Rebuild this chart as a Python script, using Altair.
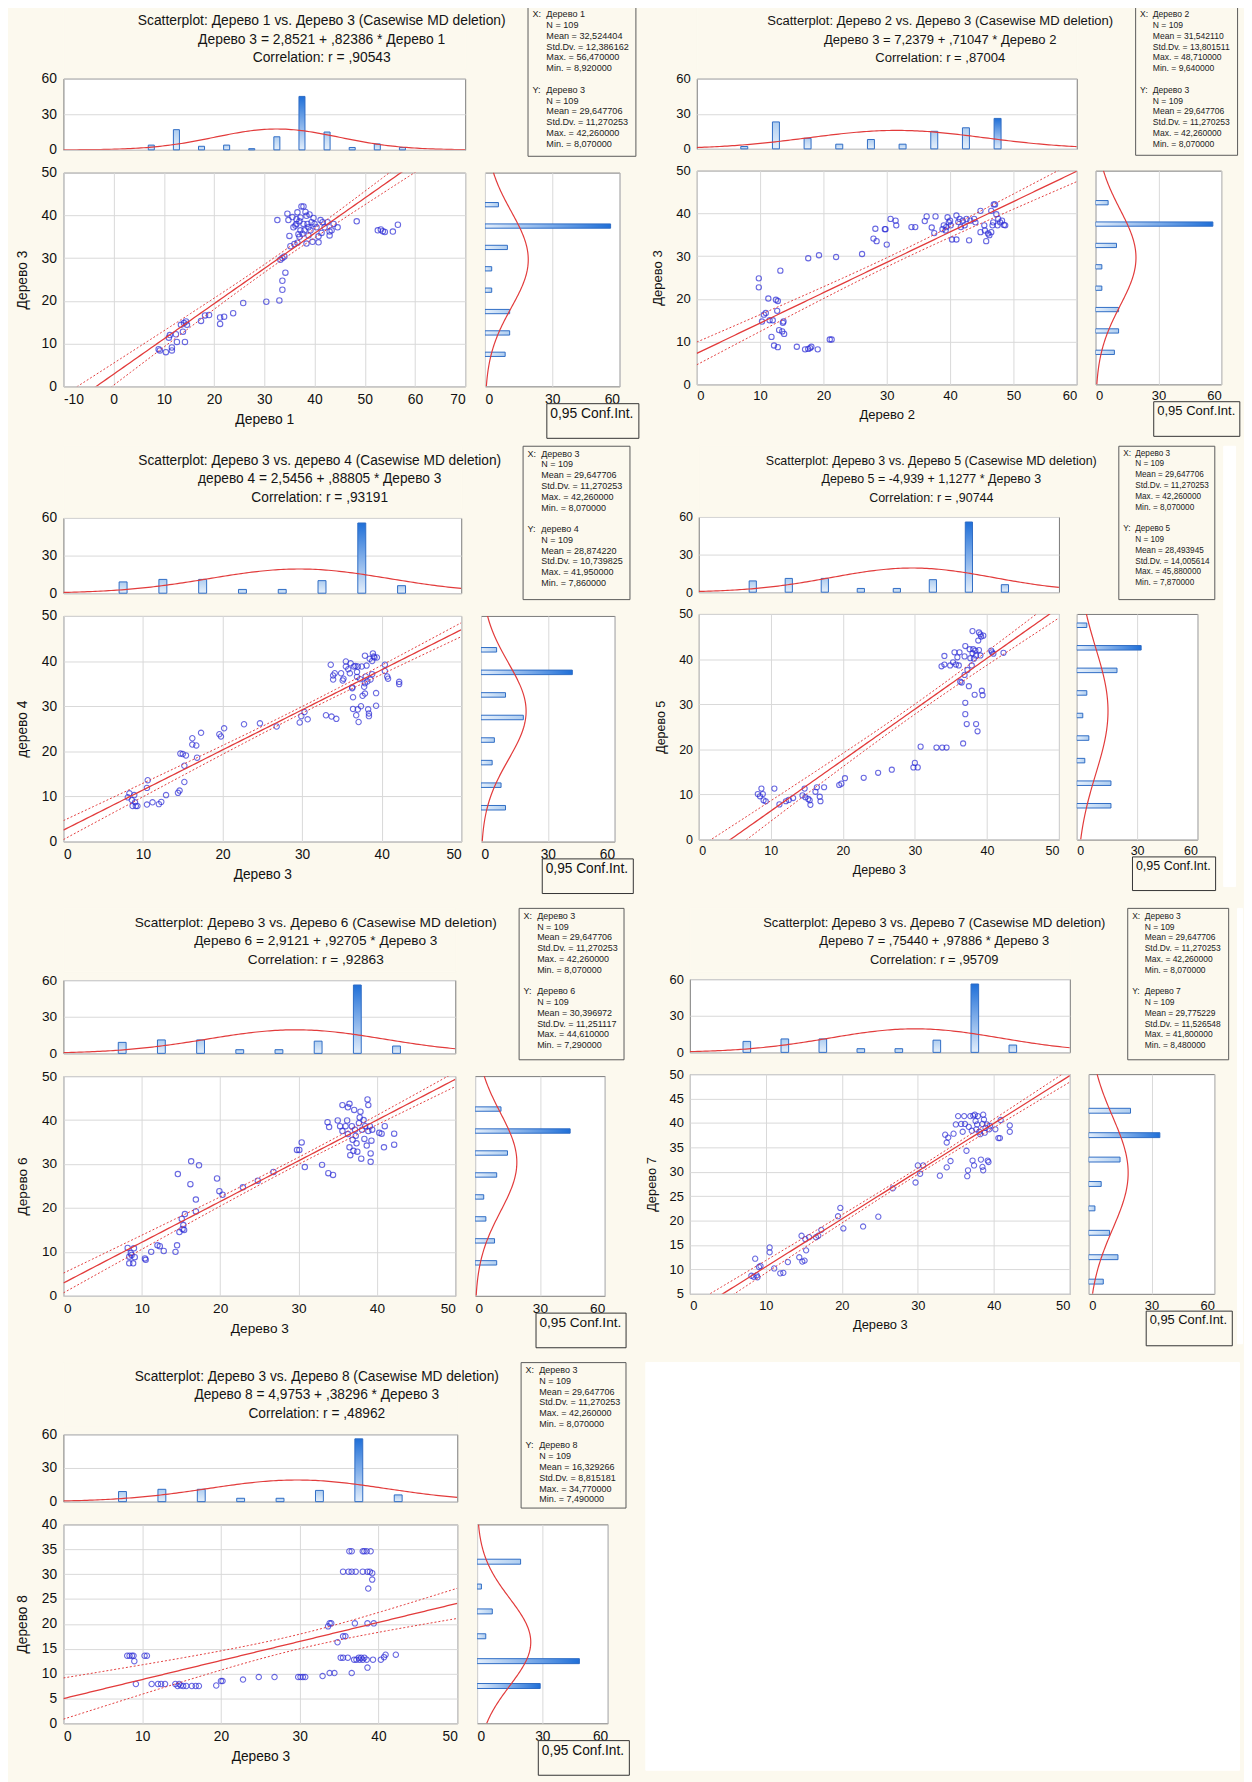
import altair as alt
import pandas as pd
import math

# ------------------------------------------------------------------ data
N_CASES = 109
BIN_WIDTH = 5

VAR_NAMES = ["Дерево 1", "Дерево 2", "Дерево 3", "дерево 4", "Дерево 5", "Дерево 6", "Дерево 7", "Дерево 8"]
VAR_MEAN = [32.524404, 31.542110, 29.647706, 28.874220, 28.493945, 30.396972, 29.775229, 16.329266]
VAR_SD = [12.386162, 13.801511, 11.270253, 10.739825, 14.005614, 11.251117, 11.526548, 8.815181]
VAR_MAX = [56.47, 48.71, 42.26, 41.95, 45.88, 44.61, 41.80, 34.77]
VAR_MIN = [8.92, 9.64, 8.07, 7.86, 7.87, 7.29, 8.48, 7.49]

HIST_MIDS = [
    [7.5, 12.5, 17.5, 22.5, 27.5, 32.5, 37.5, 42.5, 47.5, 52.5, 57.5],
    [7.5, 12.5, 17.5, 22.5, 27.5, 32.5, 37.5, 42.5, 47.5],
    [7.5, 12.5, 17.5, 22.5, 27.5, 32.5, 37.5, 42.5],
    [7.5, 12.5, 17.5, 22.5, 27.5, 32.5, 37.5, 42.5],
    [7.5, 12.5, 17.5, 22.5, 27.5, 32.5, 37.5, 42.5, 47.5],
    [7.5, 12.5, 17.5, 22.5, 27.5, 32.5, 37.5, 42.5],
    [7.5, 12.5, 17.5, 22.5, 27.5, 32.5, 37.5, 42.5],
    [7.5, 12.5, 17.5, 22.5, 27.5, 32.5],
]
HIST_COUNTS = [
    [4, 17, 3, 4, 1, 11, 45, 15, 2, 5, 2],
    [2, 23, 9, 4, 8, 4, 15, 18, 26],
    [9, 11, 11, 3, 3, 10, 56, 6],
    [11, 9, 5, 6, 19, 11, 41, 7],
    [17, 17, 4, 6, 3, 5, 20, 32, 5],
    [10, 9, 5, 4, 10, 15, 44, 12],
    [7, 14, 10, 3, 6, 15, 34, 20],
    [29, 47, 4, 7, 2, 20],
]

PAIRS = [(0, 2), (1, 2), (2, 3), (2, 4), (2, 5), (2, 6), (2, 7)]
INTERCEPT = [2.8521, 7.2379, 2.5456, -4.939, 2.9121, 0.75440, 4.9753]
SLOPE = [0.82386, 0.71047, 0.88805, 1.1277, 0.92705, 0.97886, 0.38296]
CORR = [0.90543, 0.87004, 0.93191, 0.90744, 0.92863, 0.95709, 0.48962]
EQ_TEXT = [
    "Дерево 3 = 2,8521 + ,82386 * Дерево 1",
    "Дерево 3 = 7,2379 + ,71047 * Дерево 2",
    "дерево 4 = 2,5456 + ,88805 * Дерево 3",
    "Дерево 5 = -4,939 + 1,1277 * Дерево 3",
    "Дерево 6 = 2,9121 + ,92705 * Дерево 3",
    "Дерево 7 = ,75440 + ,97886 * Дерево 3",
    "Дерево 8 = 4,9753 + ,38296 * Дерево 3",
]
CORR_TEXT = [",90543", ",87004", ",93191", ",90744", ",92863", ",95709", ",48962"]

X_DOMAIN = [(-10, 70), (0, 60), (0, 50), (0, 50), (0, 50), (0, 50), (0, 50)]
Y_DOMAIN = [(0, 50), (0, 50), (0, 50), (0, 50), (0, 50), (5, 50), (0, 40)]
X_TICKS = [[-10, 0, 10, 20, 30, 40, 50, 60, 70], [0, 10, 20, 30, 40, 50, 60]] + [[0, 10, 20, 30, 40, 50]] * 5
Y_TICKS = [[0, 10, 20, 30, 40, 50]] * 5 + [[5, 10, 15, 20, 25, 30, 35, 40, 45, 50], [0, 5, 10, 15, 20, 25, 30, 35, 40]]
HIST_TICKS = [0, 30, 60]
CONF_LABEL = "0,95 Conf.Int."

P1 = [(8.96,8.7),(9.2,8.4),(10.4,8.0),(11.0,11.4),(11.2,12.0),(11.6,9.1),(11.6,8.4),(12.6,10.4),(12.4,12.2),(13.4,14.4),(13.8,12.8),(14.0,14.8),(14.2,10.4),(14.4,15.2),(14.6,14.4),(17.4,15.3),(18.2,16.6),(19.0,16.7),(21.2,16.1),(21.2,14.6),(22.0,16.3),(23.8,17.1),(25.8,19.5),(30.4,19.8),(33.0,20.1),(33.6,22.6),(33.6,24.7),(34.2,26.6),(33.2,29.6),(33.6,30.0),(34.0,30.4),(32.6,38.9),(34.6,40.4),(35.0,35.2),(34.8,38.9),(35.2,32.8),(36.0,33.3),(36.6,33.6),(36.6,40.7),(36.4,38.0),(37.2,39.5),(37.4,42.1),(37.8,42.1),(37.8,38.0),(38.2,40.8),(38.0,36.5),(37.2,36.5),(36.8,35.6),(38.4,33.4),(38.8,37.2),(39.4,38.4),(39.6,33.8),(39.8,39.4),(40.4,37.2),(40.8,35.1),(40.8,33.7),(41.2,38.9),(41.4,35.9),(42.0,37.2),(42.6,38.4),(43.0,35.3),(43.0,36.2),(43.4,36.5),(43.8,38.0),(44.6,37.2),(35.8,37.2),(37.0,35.0),(38.8,35.3),(48.4,38.6),(52.6,36.5),(53.2,36.7),(53.6,36.3),(54.0,36.1),(55.6,36.2),(56.6,37.8),(36.4,39.1),(38.4,39.9),(37.6,35.7),(39.2,36.5),(40.0,38.0),(41.6,38.4),(36.2,37.6),(37.0,38.6),(38.6,38.0),(35.6,39.6),(39.0,40.2)]
P2 = [(9.8,24.8),(9.8,22.7),(10.3,14.7),(10.6,16.3),(10.9,16.7),(11.3,20.1),(11.5,15.0),(11.8,11.1),(12.0,15.0),(12.2,9.1),(12.5,19.8),(12.8,19.5),(12.7,17.2),(12.8,8.7),(13.2,26.6),(13.0,12.7),(13.5,12.4),(13.6,14.4),(13.8,11.8),(13.7,14.7),(15.8,8.8),(17.1,8.2),(17.6,8.3),(17.9,8.5),(18.1,8.8),(17.6,29.5),(19.1,8.2),(19.3,30.2),(21.0,10.5),(21.3,10.5),(22.0,29.8),(26.1,30.5),(27.9,34.1),(28.2,36.4),(28.4,33.5),(29.7,36.3),(29.8,36.3),(30.0,32.7),(30.6,38.7),(31.4,38.3),(31.5,37.2),(33.9,36.8),(34.5,36.8),(36.0,38.2),(36.3,39.3),(37.1,36.7),(37.5,35.4),(37.7,39.3),(38.8,36.3),(39.0,37.2),(39.3,36.0),(39.4,36.8),(39.6,39.1),(39.8,37.9),(40.0,38.3),(40.1,37.2),(40.3,33.9),(41.0,33.9),(41.0,39.5),(41.3,38.0),(41.5,38.7),(41.7,36.8),(42.0,38.3),(42.3,37.2),(42.6,38.7),(43.0,33.7),(43.2,38.3),(43.8,38.7),(44.0,37.9),(44.8,40.6),(44.8,35.6),(45.4,37.2),(45.5,36.0),(45.7,33.5),(46.0,35.3),(46.2,34.9),(46.5,35.6),(46.5,40.6),(46.7,37.2),(46.8,37.9),(46.9,42.1),(47.1,42.1),(47.3,39.8),(47.5,37.2),(47.6,38.7),(47.9,37.9),(48.2,38.3),(48.5,37.3),(48.7,37.2)]
P3 = [(8.1,9.8),(8.3,10.7),(8.6,9.2),(8.7,7.9),(8.9,10.3),(9.0,8.7),(9.1,7.9),(9.3,7.9),(10.5,11.9),(10.6,13.6),(10.5,8.2),(11.2,8.7),(12.0,8.3),(12.3,8.8),(12.9,10.3),(14.4,10.8),(14.6,11.3),(14.7,19.5),(15.0,19.4),(15.2,13.2),(15.2,16.8),(15.4,19.1),(16.2,22.9),(16.2,21.5),(16.7,21.3),(16.8,18.6),(17.3,24.1),(19.6,23.8),(19.8,23.3),(20.2,25.1),(22.7,26.0),(24.7,26.2),(26.8,25.5),(29.7,26.4),(29.9,27.8),(30.3,28.7),(30.7,27.1),(33.0,28.0),(33.7,27.7),(34.3,27.2),(33.6,39.2),(33.9,36.8),(33.9,35.9),(34.1,37.3),(34.9,37.3),(35.1,35.7),(35.2,36.1),(35.5,39.9),(35.5,38.8),(35.8,38.2),(36.0,37.3),(36.1,39.5),(36.3,34.2),(36.3,34.0),(36.4,32.0),(36.4,29.4),(36.5,38.8),(36.7,38.9),(36.8,28.0),(36.9,36.5),(36.9,37.6),(37.0,38.8),(37.0,29.3),(37.1,26.5),(37.3,36.0),(37.4,30.0),(37.5,38.8),(37.6,32.3),(37.8,34.3),(37.9,35.1),(37.9,32.8),(37.9,41.2),(38.0,36.6),(38.1,39.0),(38.2,35.5),(38.3,29.3),(38.4,28.4),(38.4,27.8),(38.5,40.5),(38.6,35.9),(38.8,40.0),(38.8,37.1),(38.9,41.7),(39.0,41.0),(39.1,40.8),(39.3,32.9),(39.3,30.1),(39.4,40.8),(40.4,39.2),(40.4,37.8),(40.7,36.6),(40.8,36.1),(42.2,35.4),(42.2,34.9)]
P4 = [(8.2,10.1),(8.5,9.6),(8.7,11.3),(8.9,10.1),(9.0,8.7),(9.3,8.5),(10.5,11.3),(11.2,7.8),(12.1,8.5),(12.5,8.8),(13.1,9.2),(14.4,9.8),(14.7,11.3),(14.8,9.4),(15.2,9.0),(15.4,8.7),(15.5,7.7),(16.2,10.6),(16.4,11.6),(16.8,9.5),(16.9,8.5),(17.4,11.6),(19.5,12.1),(19.8,12.4),(20.3,13.6),(22.9,13.7),(24.9,14.8),(26.8,15.5),(29.8,16.0),(30.0,17.0),(30.4,16.0),(30.8,20.6),(33.0,20.4),(33.8,20.4),(34.4,20.4),(33.7,38.4),(34.1,38.8),(34.1,40.7),(34.9,38.6),(35.3,39.3),(35.5,41.5),(35.7,38.8),(35.9,40.4),(36.1,38.6),(36.2,41.5),(36.3,35.0),(36.5,34.8),(36.7,21.3),(36.9,36.5),(36.9,40.6),(37.0,42.9),(37.0,30.3),(37.0,27.8),(37.2,25.6),(37.3,37.6),(37.5,34.0),(37.6,42.2),(37.7,40.2),(37.9,38.6),(38.0,41.3),(38.0,46.2),(38.1,42.2),(38.2,40.1),(38.3,32.1),(38.4,41.9),(38.5,40.8),(38.5,25.6),(38.7,24.0),(38.8,44.1),(38.9,45.9),(38.9,42.0),(39.1,40.8),(39.1,45.5),(39.2,45.0),(39.3,33.0),(39.4,32.0),(39.5,45.2),(40.6,41.9),(40.7,41.5),(40.9,41.2),(42.3,41.4)]
P5 = [(8.2,10.9),(8.4,8.9),(8.4,7.4),(8.6,9.7),(8.7,9.3),(8.9,7.4),(9.0,10.8),(9.1,8.8),(10.4,8.5),(10.5,8.2),(11.2,10.0),(12.0,11.5),(12.3,11.3),(12.8,10.2),(14.3,10.0),(14.5,11.5),(14.6,27.7),(14.8,14.5),(15.1,17.5),(15.2,15.2),(15.3,16.1),(15.4,15.0),(15.5,18.6),(16.2,25.4),(16.3,30.6),(16.9,21.9),(16.9,19.2),(17.3,29.7),(19.6,26.7),(19.9,23.8),(20.3,23.0),(22.9,24.7),(24.8,26.2),(26.8,28.2),(29.8,33.2),(30.1,33.2),(30.4,34.9),(30.8,29.3),(33.0,29.8),(33.8,27.9),(34.4,27.5),(33.7,39.5),(33.9,38.4),(35.0,39.9),(35.3,38.6),(35.6,37.5),(35.6,43.4),(36.0,38.6),(36.2,39.9),(36.3,36.8),(36.3,42.9),(36.5,43.7),(36.5,33.8),(36.6,32.0),(36.8,38.6),(36.9,35.5),(37.0,33.0),(37.1,42.3),(37.2,37.8),(37.3,36.4),(37.4,34.7),(37.5,32.8),(37.7,39.3),(37.8,40.6),(37.9,41.9),(38.0,31.2),(38.1,37.8),(38.3,40.0),(38.4,35.7),(38.5,38.6),(38.7,34.2),(38.8,44.7),(38.9,43.4),(38.9,37.5),(39.1,38.6),(39.2,30.5),(39.2,32.4),(39.3,35.3),(39.4,37.8),(40.3,37.1),(40.6,36.9),(40.9,33.8),(41.0,38.6),(42.2,36.9),(42.2,34.4)]
P6 = [(8.1,8.7),(8.4,8.5),(8.6,12.2),(8.8,8.8),(8.9,8.4),(9.1,10.5),(9.3,10.7),(10.5,14.5),(10.5,13.5),(11.1,10.2),(11.9,9.2),(12.3,9.3),(12.9,11.5),(14.4,12.5),(14.7,16.9),(14.8,11.6),(15.1,11.8),(15.2,16.2),(15.3,13.9),(15.7,16.6),(16.6,16.6),(16.9,16.9),(17.3,18.1),(19.5,20.9),(19.8,22.6),(20.2,18.4),(22.8,18.8),(24.8,20.8),(26.7,26.6),(29.7,27.8),(30.0,31.3),(30.3,29.6),(30.7,31.3),(32.9,29.2),(33.8,30.9),(34.3,32.2),(33.6,37.6),(33.8,36.0),(34.0,37.0),(34.7,37.8),(35.0,39.7),(35.3,41.4),(35.7,39.8),(35.9,38.2),(36.1,41.4),(36.2,39.8),(36.4,34.3),(36.5,29.1),(36.6,30.3),(36.7,39.2),(36.9,41.4),(37.1,38.4),(37.2,32.3),(37.3,41.5),(37.4,31.3),(37.5,41.7),(37.6,40.4),(37.7,38.7),(37.8,39.7),(37.9,41.4),(38.1,38.2),(38.2,37.7),(38.3,32.5),(38.5,39.8),(38.5,31.0),(38.6,30.3),(38.6,41.7),(38.7,40.7),(38.8,38.0),(38.9,39.0),(39.1,39.7),(39.2,32.3),(39.3,32.0),(39.4,38.7),(39.5,39.4),(40.2,38.7),(40.6,36.9),(40.8,36.9),(40.9,40.6),(42.1,39.5),(42.1,38.2)]
P7 = [(8.1,13.6),(8.4,13.6),(8.7,13.6),(9.0,12.5),(8.9,13.6),(9.2,7.9),(10.3,13.6),(10.6,13.6),(11.2,7.9),(12.0,7.9),(12.4,7.9),(12.9,7.9),(14.2,7.9),(14.5,7.5),(14.7,7.9),(14.9,7.6),(15.2,7.5),(15.6,7.5),(16.3,7.5),(16.8,7.5),(17.2,7.5),(19.4,7.6),(20.0,8.5),(20.2,8.5),(22.8,8.8),(24.8,9.3),(26.8,9.3),(29.8,9.3),(30.1,9.3),(30.4,9.3),(30.7,9.3),(32.9,9.5),(33.8,10.1),(34.4,10.1),(36.6,10.1),(33.6,19.5),(33.8,20.1),(34.0,20.1),(34.8,16.3),(35.5,17.5),(35.8,17.5),(37.0,20.1),(38.6,20.1),(39.4,20.1),(35.2,13.2),(35.5,13.2),(36.1,13.2),(36.9,12.8),(37.2,12.8),(37.5,13.2),(37.6,12.8),(37.8,13.2),(38.0,12.8),(38.2,13.2),(38.5,12.8),(39.3,12.8),(38.6,11.2),(40.3,12.8),(40.7,13.3),(40.9,13.8),(42.2,13.8),(35.5,30.5),(36.2,30.5),(36.6,30.5),(37.1,30.5),(38.0,30.5),(38.6,30.5),(38.9,30.5),(39.2,30.2),(39.2,28.9),(38.7,27.1),(36.3,34.6),(36.6,34.6),(38.0,34.6),(38.2,34.6),(38.5,34.6),(39.0,34.6)]
POINTS = [P1, P2, P3, P4, P5, P6, P7]

# ------------------------------------------------------------------ style / layout
BG = "#fcf9ee"
BLUE = "#2b2bd6"
RED = "#e23b3b"
BAR_EDGE = "#2f6cc4"
GRID = "#d9d9d9"
FONT = "Liberation Sans"

GRAD_V = {"gradient": "linear", "x1": 0, "y1": 1, "x2": 0, "y2": 0,
          "stops": [{"offset": 0, "color": "#e3eefb"}, {"offset": 1, "color": "#1f6fd8"}]}
GRAD_V_LIGHT = {"gradient": "linear", "x1": 0, "y1": 1, "x2": 0, "y2": 0,
                "stops": [{"offset": 0, "color": "#e6f0fb"}, {"offset": 1, "color": "#aecdf0"}]}
GRAD_H = {"gradient": "linear", "x1": 0, "y1": 0, "x2": 1, "y2": 0,
          "stops": [{"offset": 0, "color": "#e3eefb"}, {"offset": 1, "color": "#1f6fd8"}]}
GRAD_H_LIGHT = {"gradient": "linear", "x1": 0, "y1": 0, "x2": 1, "y2": 0,
                "stops": [{"offset": 0, "color": "#e6f0fb"}, {"offset": 1, "color": "#aecdf0"}]}

TITLE_H = 64      # height of the title strip above the top histogram
TITLE_Y0 = 15     # centre of first title line inside the strip
TITLE_STEP = 18.7

LAYOUT = [
    dict(w=406, th=72, sh=216, hw=136, gap=20, sw=109, fs=1.0, dx=58, bar=0.6),
    dict(w=384, th=71, sh=216, hw=127, gap=19, sw=103, fs=0.94, dx=54, bar=0.55),
    dict(w=402, th=76, sh=228, hw=135, gap=20, sw=108, fs=0.99, dx=58, bar=0.5),
    dict(w=364, th=76, sh=228, hw=122, gap=18, sw=97, fs=0.9, dx=53, bar=0.5),
    dict(w=396, th=74, sh=222, hw=131, gap=20, sw=106, fs=0.985, dx=57, bar=0.5),
    dict(w=384, th=74, sh=222, hw=127, gap=19, sw=102, fs=0.93, dx=55, bar=0.5),
    dict(w=398, th=68, sh=201, hw=132, gap=20, sw=106, fs=0.99, dx=57, bar=0.5),
]


def fmt(v):
    return f"{v:.6f}".replace(".", ",")


def normal_expr(m, s):
    return f"{N_CASES}*{BIN_WIDTH}*exp(-0.5*pow((datum.v-({m}))/{s},2))/({s}*sqrt(2*PI))"


def independent(c):
    return c.resolve_scale(strokeDash="independent").resolve_legend(strokeDash="independent")


def title_strip(k, L):
    xi, yi = PAIRS[k]
    fs = L["fs"]
    lines = [f"Scatterplot: {VAR_NAMES[xi]} vs. {VAR_NAMES[yi]} (Casewise MD deletion)",
             EQ_TEXT[k], f"Correlation: r = {CORR_TEXT[k]}"]
    df = pd.DataFrame({"i": [0, 1, 2], "t": lines})
    y = alt.Y("i:Q", axis=None, scale=alt.Scale(
        domain=[-TITLE_Y0 / TITLE_STEP, (TITLE_H - TITLE_Y0) / TITLE_STEP],
        reverse=True, nice=False, zero=False))
    return alt.Chart(df).mark_text(
        align="center", baseline="middle", fontSize=14 * fs, font=FONT, color="#141414"
    ).encode(x=alt.value(L["w"] / 2 + L["dx"]), y=y, text="t:N").properties(
        width=L["w"], height=TITLE_H, view=alt.ViewBackground(fill=BG, stroke=BG))


def top_hist(k, L):
    xi, yi = PAIRS[k]
    fs = L["fs"]
    x0, x1 = X_DOMAIN[k]
    xs = alt.Scale(domain=list(X_DOMAIN[k]), nice=False, zero=False)
    ys = alt.Scale(domain=[0, 60], nice=False)
    yax = alt.Axis(values=HIST_TICKS, grid=True, title=VAR_NAMES[yi], titleOpacity=0,
                   labelFontSize=14 * fs, titleFontSize=14 * fs, titlePadding=12 * fs,
                   labelPadding=7 * fs)
    df = pd.DataFrame({"mid": HIST_MIDS[xi], "cnt": HIST_COUNTS[xi]})
    h = L["bar"]
    bars = alt.Chart(df).transform_calculate(
        a=f"datum.mid-{h}", b=f"datum.mid+{h}", z="0"
    ).mark_rect(stroke=BAR_EDGE, strokeWidth=1).encode(
        x=alt.X("a:Q", scale=xs, axis=None), x2="b:Q",
        y=alt.Y("cnt:Q", scale=ys, axis=yax), y2="z:Q",
        color=alt.condition("datum.cnt >= 25", alt.value(GRAD_V), alt.value(GRAD_V_LIGHT)),
    )
    curve = alt.Chart(alt.sequence(x0, x1 + 0.01, (x1 - x0) / 150, as_="v")).transform_calculate(
        d=normal_expr(VAR_MEAN[xi], VAR_SD[xi])
    ).mark_line(color=RED, strokeWidth=1.2, clip=True).encode(
        x=alt.X("v:Q", scale=xs, axis=None), y=alt.Y("d:Q", scale=ys, axis=yax)
    )
    return alt.layer(bars, curve).properties(width=L["w"], height=L["th"])


def stats_box(k, L):
    xi, yi = PAIRS[k]
    fs = L["fs"]
    rows = []
    for j, (pre, vi) in enumerate([("X:", xi), ("Y:", yi)]):
        lines = [VAR_NAMES[vi], f"N = {N_CASES}", f"Mean = {fmt(VAR_MEAN[vi])}",
                 f"Std.Dv. = {fmt(VAR_SD[vi])}", f"Max. = {fmt(VAR_MAX[vi])}",
                 f"Min. = {fmt(VAR_MIN[vi])}"]
        for t, s in enumerate(lines):
            rows.append({"i": j * 7 + t, "pre": pre if t == 0 else "", "txt": s})
    df = pd.DataFrame(rows)
    H = TITLE_H + 7 + L["th"] + 8
    step = 10.9
    y = alt.Y("i:Q", axis=None, scale=alt.Scale(domain=[-8 / step, (H - 8) / step],
                                                reverse=True, nice=False, zero=False))
    base = alt.Chart(df).encode(y=y)
    t_pre = base.mark_text(align="left", baseline="middle", font=FONT, fontSize=9.2 * fs,
                           color="#222222").encode(x=alt.value(5), text="pre:N")
    t_txt = base.mark_text(align="left", baseline="middle", font=FONT, fontSize=9.2 * fs,
                           color="#222222").encode(x=alt.value(19 * fs), text="txt:N")
    return alt.layer(t_pre, t_txt).properties(
        width=L["sw"], height=H, view=alt.ViewBackground(fill=BG, stroke="#5a5a5a"))


def scatter(k, L):
    xi, yi = PAIRS[k]
    fs = L["fs"]
    x0, x1 = X_DOMAIN[k]
    xs = alt.Scale(domain=list(X_DOMAIN[k]), nice=False, zero=False)
    ys = alt.Scale(domain=list(Y_DOMAIN[k]), nice=False, zero=False)
    xax = alt.Axis(values=X_TICKS[k], grid=True, title=VAR_NAMES[xi], labelFontSize=14 * fs,
                   titleFontSize=14 * fs, titlePadding=7 * fs, labelPadding=6 * fs,
                   labelExpr="replace(datum.label, '\u2212', '-')")
    yax = alt.Axis(values=Y_TICKS[k], grid=True, title=VAR_NAMES[yi], labelFontSize=14 * fs,
                   titleFontSize=14 * fs, titlePadding=12 * fs, labelPadding=7 * fs)
    df = pd.DataFrame(POINTS[k], columns=["x", "y"])
    pts = alt.Chart(df).mark_point(shape="circle", filled=False, color=BLUE, size=30 * fs,
                                   strokeWidth=1.1).encode(
        x=alt.X("x:Q", scale=xs, axis=xax), y=alt.Y("y:Q", scale=ys, axis=yax))
    a, b, r = INTERCEPT[k], SLOPE[k], CORR[k]
    s_res = VAR_SD[yi] * math.sqrt((1 - r * r) * (N_CASES - 1) / (N_CASES - 2))
    sxx = (N_CASES - 1) * VAR_SD[xi] ** 2
    seq = alt.sequence(x0, x1 + 0.01, (x1 - x0) / 120, as_="v")
    reg = alt.Chart(seq).transform_calculate(f=f"{a}+{b}*datum.v").mark_line(
        color=RED, strokeWidth=1.3, clip=True).encode(
        x=alt.X("v:Q", scale=xs, axis=xax), y=alt.Y("f:Q", scale=ys, axis=yax))
    ci = alt.Chart(seq).transform_calculate(
        h=f"1.9822*{s_res}*sqrt(1/{N_CASES}+pow(datum.v-({VAR_MEAN[xi]}),2)/{sxx})",
        lo=f"{a}+{b}*datum.v-datum.h",
        hi=f"{a}+{b}*datum.v+datum.h",
    ).transform_fold(["lo", "hi"], as_=["side", "val"]).mark_line(
        color=RED, strokeWidth=1, strokeDash=[2, 2], clip=True).encode(
        x=alt.X("v:Q", scale=xs, axis=xax), y=alt.Y("val:Q", scale=ys, axis=yax),
        detail="side:N")
    return alt.layer(pts, reg, ci).properties(width=L["w"], height=L["sh"])


def side_hist(k, L):
    xi, yi = PAIRS[k]
    fs = L["fs"]
    y0, y1 = Y_DOMAIN[k]
    ys = alt.Scale(domain=list(Y_DOMAIN[k]), nice=False, zero=False)
    xs = alt.Scale(domain=[0, 60], nice=False)
    xax = alt.Axis(values=HIST_TICKS, grid=True, title=None, labelFontSize=14 * fs, labelPadding=6 * fs)
    df = pd.DataFrame({"mid": HIST_MIDS[yi], "cnt": HIST_COUNTS[yi]})
    bars = alt.Chart(df).transform_calculate(
        a="datum.mid-0.5", b="datum.mid+0.5", z="0"
    ).mark_rect(stroke=BAR_EDGE, strokeWidth=1, clip=True).encode(
        y=alt.Y("a:Q", scale=ys, axis=None), y2="b:Q",
        x=alt.X("cnt:Q", scale=xs, axis=xax), x2="z:Q",
        color=alt.condition("datum.cnt >= 25", alt.value(GRAD_H), alt.value(GRAD_H_LIGHT)),
    )
    curve_data = alt.sequence(y0, y1 + 0.01, (y1 - y0) / 150, as_="v")
    curve = alt.Chart(curve_data).transform_calculate(
        d=normal_expr(VAR_MEAN[yi], VAR_SD[yi])
    ).mark_line(color=RED, strokeWidth=1.2, clip=True).encode(
        y=alt.Y("v:Q", scale=ys, axis=None), x=alt.X("d:Q", scale=xs, axis=xax),
        order=alt.Order("v:Q"))
    # legend box "0,95 Conf.Int." (the dotted confidence band of the scatter)
    conf = alt.Chart(df).transform_calculate(lab=f"'{CONF_LABEL}'").mark_line(
        opacity=0, clip=True).encode(
        y=alt.Y("mid:Q", scale=ys, axis=None), x=alt.X("cnt:Q", scale=xs, axis=xax),
        strokeDash=alt.StrokeDash("lab:N", scale=alt.Scale(range=[[2, 2]]), legend=alt.Legend(
            title=CONF_LABEL, titleFontWeight="normal", titleFontSize=14 * fs, titleFont=FONT,
            titleColor="#111111", titlePadding=4, orient="none", legendX=62 * fs,
            legendY=L["sh"] + 17, strokeColor="#333333", fillColor=BG, padding=4,
            symbolOpacity=0, symbolSize=60, labelExpr="''", labelFontSize=8)))
    return alt.layer(bars, curve, conf).properties(width=L["hw"], height=L["sh"])


def panel(k):
    L = LAYOUT[k]
    left_top = alt.vconcat(title_strip(k, L), top_hist(k, L), spacing=0)
    row_top = alt.hconcat(left_top, stats_box(k, L), spacing=20)
    row_mid = independent(alt.hconcat(scatter(k, L), side_hist(k, L), spacing=L["gap"], bounds="flush"))
    return independent(alt.vconcat(row_top, row_mid, spacing=7))


def blank(width, height):
    # plain white page area (the reference has no panel there)
    return alt.Chart(pd.DataFrame({"v": [0]})).mark_point(opacity=0).encode(
        x=alt.X("v:Q", axis=None), y=alt.Y("v:Q", axis=None)
    ).properties(width=width, height=height, view=alt.ViewBackground(fill="white", stroke="white"))


row1 = independent(alt.hconcat(panel(0), panel(1), spacing=11))
row2 = independent(alt.hconcat(independent(alt.hconcat(panel(2), panel(3), spacing=20)),
                               blank(12, 445), spacing=6))
row3 = independent(alt.hconcat(independent(alt.hconcat(panel(4), panel(5), spacing=17)),
                               blank(5, 440), spacing=3))
row4 = independent(alt.hconcat(panel(6), blank(600, 412), spacing=14))

lower = independent(alt.vconcat(row2, row3, row4, spacing=13))
chart = independent(alt.vconcat(row1, lower, spacing=6)).properties(
    background=BG, padding={"left": 6, "top": -12, "right": 1, "bottom": 0}
).configure_view(
    fill="white", stroke="#7a7a7a", strokeWidth=1
).configure_axis(
    labelFont=FONT, titleFont=FONT, labelColor="#111111", titleColor="#111111",
    titleFontWeight="normal", ticks=False, domain=False, gridColor=GRID, gridWidth=1,
    labelPadding=5
)

chart.save("out.html", embed_options={"renderer": "svg", "actions": False})
